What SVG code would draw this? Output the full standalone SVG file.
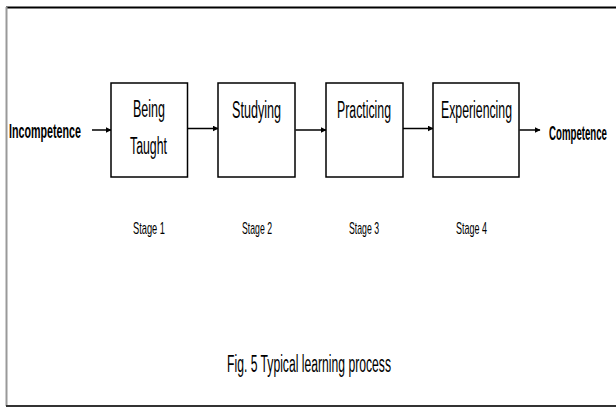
<svg xmlns="http://www.w3.org/2000/svg" width="616" height="407" viewBox="0 0 616 407">
<style>
.box{fill:#fff;stroke:#000;stroke-width:1.5}
.t{font-family:"Liberation Sans",Arial,sans-serif;fill:#000}
.lbl{font-size:23px}
.end{font-size:20px;font-weight:bold}
.stg{font-size:17px}
.cap{font-size:23px}
.c{stroke:#000;stroke-width:1.5;fill:none;marker-end:url(#ah)}
</style>
<defs>
<marker id="ah" viewBox="0 0 10 10" refX="9" refY="5" markerWidth="6" markerHeight="6" orient="auto" markerUnits="userSpaceOnUse">
<path d="M0,0 L10,5 L0,10 z" fill="#000"/>
</marker>
</defs>
<rect width="616" height="407" fill="#fff"/>
<g id="frame">
<line x1="6" y1="7.5" x2="616" y2="7.5" stroke="#000" stroke-width="2"/>
<line x1="6.5" y1="7" x2="6.5" y2="406" stroke="#999" stroke-width="2"/>
<line x1="6" y1="406" x2="616" y2="406" stroke="#333" stroke-width="2"/>
</g>
<g id="connectors">
<line class="c" x1="92" y1="130" x2="111" y2="130"/>
<line class="c" x1="187.5" y1="128.5" x2="218" y2="128.5"/>
<line class="c" x1="295.5" y1="130" x2="326" y2="130"/>
<line class="c" x1="403" y1="128.5" x2="433" y2="128.5"/>
<line class="c" x1="519.5" y1="130" x2="540" y2="130"/>
</g>
<g id="incompetence">
<text class="t end" x="9" y="138" textLength="72" lengthAdjust="spacingAndGlyphs">Incompetence</text>
</g>
<g id="being-taught">
<rect class="box" x="111" y="83" width="76.5" height="94"/>
<text class="t lbl" x="133" y="117" textLength="32" lengthAdjust="spacingAndGlyphs">Being</text>
<text class="t lbl" x="130" y="154" textLength="37" lengthAdjust="spacingAndGlyphs">Taught</text>
</g>
<g id="studying">
<rect class="box" x="218" y="83" width="77" height="94"/>
<text class="t lbl" x="232" y="118" textLength="49" lengthAdjust="spacingAndGlyphs">Studying</text>
</g>
<g id="practicing">
<rect class="box" x="326" y="83" width="77" height="94"/>
<text class="t lbl" x="337" y="118" textLength="54" lengthAdjust="spacingAndGlyphs">Practicing</text>
</g>
<g id="experiencing">
<rect class="box" x="433" y="83" width="86" height="94"/>
<text class="t lbl" x="441" y="118" textLength="71" lengthAdjust="spacingAndGlyphs">Experiencing</text>
</g>
<g id="competence">
<text class="t end" x="549" y="140" textLength="58" lengthAdjust="spacingAndGlyphs">Competence</text>
</g>
<g id="stages">
<text class="t stg" x="133" y="234" textLength="32" lengthAdjust="spacingAndGlyphs">Stage 1</text>
<text class="t stg" x="242" y="234" textLength="30" lengthAdjust="spacingAndGlyphs">Stage 2</text>
<text class="t stg" x="349" y="234" textLength="30" lengthAdjust="spacingAndGlyphs">Stage 3</text>
<text class="t stg" x="456" y="234" textLength="31" lengthAdjust="spacingAndGlyphs">Stage 4</text>
</g>
<g id="caption">
<text class="t cap" x="227" y="372" textLength="164" lengthAdjust="spacingAndGlyphs">Fig. 5 Typical learning process</text>
</g>
</svg>
